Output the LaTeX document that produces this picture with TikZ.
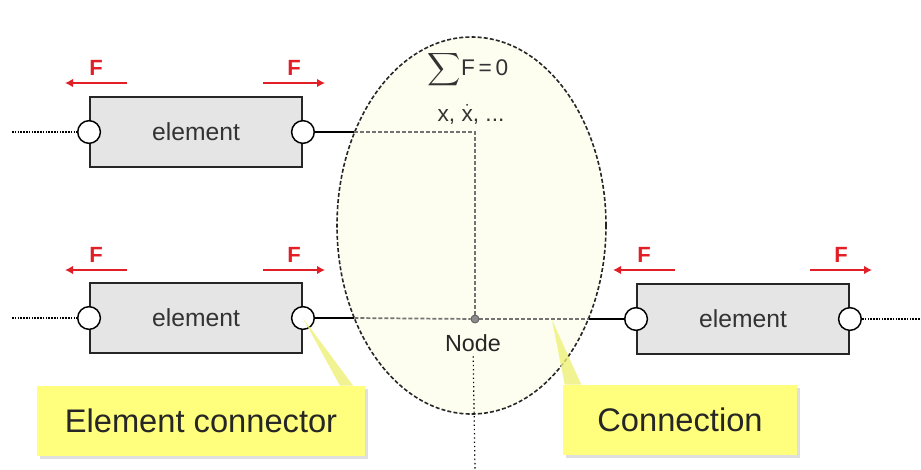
\documentclass[tikz,border=0pt]{standalone}
\usepackage{amsmath}
\usepackage{fontspec}
\setmainfont{Liberation Sans}
\usetikzlibrary{shapes.geometric,arrows.meta,shadows,positioning}
\definecolor{forcered}{RGB}{226,30,38}
\definecolor{nodecream}{RGB}{253,253,240}
\definecolor{calloutyellow}{RGB}{255,255,125}
\definecolor{pointeryellow}{RGB}{238,240,120}
\begin{document}
\begin{tikzpicture}[x=0.75pt, y=-0.75pt,
    element/.style = {rectangle, draw=black!85, line width=1.4pt, fill=black!10,
      minimum width=159pt, minimum height=52.5pt, text=black!80,
      font=\fontsize{18.5}{20}\selectfont},
    port/.style = {circle, draw=black, line width=1.1pt, fill=white,
      minimum size=17pt, inner sep=0pt},
    wire/.style = {line width=2pt},
    link/.style = {draw=black!55, line width=1.3pt, dash pattern=on 3pt off 1.5pt},
    loose/.style = {line width=1pt, dash pattern=on 1.2pt off 0.9pt},
    force/.style = {draw=forcered, line width=2pt, -{Latex[length=6pt,width=6.5pt]}},
    flabel/.style = {text=forcered, inner sep=0pt, font=\fontsize{16.5}{18}\selectfont\bfseries},
    callout/.style = {rectangle, fill=calloutyellow, minimum height=52.5pt,
      text=black!85, font=\fontsize{24.5}{28}\selectfont,
      drop shadow={shadow xshift=2.5pt, shadow yshift=-2.5pt, fill=black!25}}]
  \useasboundingbox (0,0) rectangle (921,469);

  % node region
  \node[ellipse, draw=black!85, fill=nodecream, line width=1.2pt, dash pattern=on 3pt off 1.6pt,
    minimum width=201.75pt, minimum height=282.75pt] (area) at (471.5,225.5) {};
  \node[font=\fontsize{17}{20}\selectfont, text=black!80, inner sep=1pt] (balance) at (468,70) {$\displaystyle\sum$F\,=\,0};
  \node[font=\fontsize{17}{20}\selectfont, text=black!80, inner sep=1pt] (states) at (471,114) {x, $\dot{\mbox{x}}$, ...};

  % elements
  \node[element] (e1) at (196,132) {element};
  \node[element] (e2) at (196,318) {element};
  \node[element] (e3) at (743,319) {element};
  \node[port] (p1l) at (e1.west) {};
  \node[port] (p1r) at (e1.east) {};
  \node[port] (p2l) at (e2.west) {};
  \node[port] (p2r) at (e2.east) {};
  \node[port] (p3l) at (e3.west) {};
  \node[port] (p3r) at (e3.east) {};

  % loose ends
  \coordinate (d1) at (12,132);
  \coordinate (d2) at (12,318);
  \coordinate (d3) at (921,319);
  \coordinate (down) at (475,469);
  \draw[loose] (d1) -- (p1l);
  \draw[loose] (d2) -- (p2l);
  \draw[loose] (p3r) -- (d3);

  % connections to the node
  \node[circle, fill=black!45, draw=black!65, line width=0.6pt, minimum size=6pt, inner sep=0pt] (nd) at (475,319) {};
  \node[font=\fontsize{17.5}{20}\selectfont, text=black!85] (ndlabel) at (473,343) {Node};
  \draw[line width=0.9pt, dash pattern=on 1pt off 2.2pt] (ndlabel) -- (down);
  \draw[wire] (p1r) -- (p1r -| area.141);
  \draw[link] (p1r -| area.141) -| (nd);
  \draw[wire] (p2r) -- (p2r -| area.219);
  \draw[link] (p2r -| area.219) -- (nd);
  \draw[link] (nd) -- (p3l -| area.321);
  \draw[wire] (p3l -| area.321) -- (p3l);

  % forces
  \foreach \lab/\xa/\xb/\yy in {fa/127/65/83, fb/263/325/83, fc/127/65/270,
      fd/263/325/270, fe/675/613/270, ff/810/872/270} {
    \node[flabel] (\lab) at ({(\xa+\xb)/2},{\yy-15}) {F};
    \draw[force] (\xa,\yy) -- (\xb,\yy);
  }

  % callouts
  \node[callout, minimum width=246pt] (c1) at (201,421) {Element connector};
  \node[callout, minimum width=175.5pt] (c2) at (680,420) {Connection};
  \coordinate (cpt) at (552,320);
  \fill[pointeryellow, opacity=0.8] (p2r.center) -- ([xshift=-19pt]c1.north east)
    -- ([xshift=-9pt]c1.north east) -- cycle;
  \fill[pointeryellow, opacity=0.8] (cpt) -- ([xshift=1.5pt]c2.north west)
    -- ([xshift=14pt]c2.north west) -- cycle;
\end{tikzpicture}
\end{document}
